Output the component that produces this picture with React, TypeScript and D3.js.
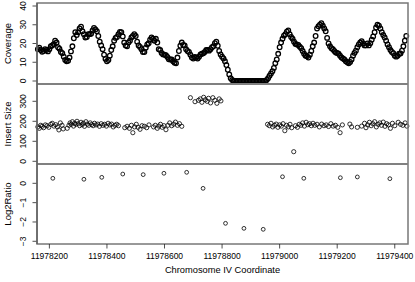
import React from "react";
import * as d3 from "d3";

// Coverage: read every 5 bp starting at 11978160
const coverageStart = 11978160;
const coverageStep = 5;
const coverageValues = [
  17, 17.8, 16.5, 15.6, 16, 17, 16.5, 15.8, 17, 18.5,
  19, 19.6, 21.5, 20.5, 18, 17.2, 15.5, 14.8, 13, 11.2,
  10.5, 10.8, 12.5, 15.8, 18.5, 22.8, 26, 24.5, 26, 28,
  29, 26.5, 25, 23.2, 23.5, 25, 25, 25.2, 27, 28.3,
  27.5, 26.5, 24, 21, 19, 17, 14, 11.8, 10.5, 11.2,
  13.5, 16.5, 18.5, 21.5, 23, 23.5, 25, 26.2, 26, 23.8,
  20.5, 19, 18.5, 20.5, 21.5, 23.2, 24, 25, 24, 21,
  19, 18.2, 17, 15.5, 15.5, 17.8, 19.5, 20.2, 22, 23.2,
  22.5, 21.5, 22.5, 20.5, 17, 16.5, 15, 14.2, 14, 13.8,
  12.8, 11.6, 11.5, 11.5, 10.5, 9.8, 9.5, 12.5, 16, 18.8,
  20.5, 19.2, 19, 17, 16, 15.5, 14, 12.5, 12, 12.8,
  12.5, 12, 13, 14.2, 14.5, 14.8, 15.5, 16.5, 16.5, 16.2,
  17, 18, 18.5, 20.2, 21, 18.8, 16, 14.2, 13, 12,
  10.5, 8.5, 6, 3.5, 1.5, 0.5, 0, 0, 0, 0,
  0, 0, 0, 0, 0, 0, 0, 0, 0, 0,
  0, 0, 0, 0, 0, 0, 0, 0, 0, 0.6,
  1.5, 2.8, 4, 5.2, 7, 9.5, 11.5, 14.5, 18, 20.5,
  22.5, 24.2, 25, 26.3, 27, 25, 23.5, 22.5, 21, 19.8,
  19.5, 19.2, 18.3, 17.5, 16, 14.5, 13.5, 13.2, 12.5, 14,
  16, 18.5, 20.5, 24, 28, 29.2, 30, 30.8, 29.5, 28,
  26.5, 23, 20, 18.5, 17.5, 17, 16, 15.2, 15, 14.5,
  13.5, 12.5, 12, 11.5, 10.5, 10, 9.5, 10.2, 11.5, 13.5,
  15, 16.2, 18, 19.5, 20.5, 21.2, 20, 19, 19, 20,
  19, 20.2, 22, 23.8, 26, 28.5, 30, 29.5, 28, 26,
  24.5, 23.2, 21.5, 19.5, 18, 16.5, 15.5, 14.8, 13.5, 13,
  13.5, 14.5, 14.7, 16.2, 18.5, 21.5, 24,
];

// Insert size: coordinate and size
const insertPos = [
  11978160, 11978165, 11978170, 11978175, 11978180, 11978186, 11978192, 11978198, 11978205, 11978210,
  11978216, 11978222, 11978228, 11978233, 11978238, 11978244, 11978248,
  11978262, 11978268, 11978272, 11978276, 11978280, 11978284, 11978288, 11978292, 11978296, 11978300,
  11978305, 11978310, 11978314, 11978318, 11978322, 11978327, 11978332, 11978337, 11978342, 11978347,
  11978352, 11978357, 11978362, 11978368, 11978374, 11978380, 11978386, 11978392, 11978398, 11978404,
  11978410, 11978416, 11978422, 11978428, 11978434, 11978440,
  11978462, 11978470, 11978478, 11978485, 11978490, 11978496, 11978502, 11978508, 11978515, 11978522,
  11978530, 11978538, 11978546,
  11978562, 11978568, 11978575, 11978580, 11978586, 11978592, 11978598, 11978605, 11978612, 11978618,
  11978625, 11978632, 11978638, 11978645, 11978652, 11978660,
  11978690, 11978706, 11978718, 11978724, 11978730, 11978736, 11978742, 11978748, 11978753, 11978760,
  11978768, 11978775, 11978782, 11978790, 11978796,
  11978958, 11978964, 11978970, 11978976, 11978982, 11978988, 11978994, 11979000, 11979006, 11979012,
  11979018, 11979024, 11979030, 11979036, 11979042, 11979049, 11979055, 11979062, 11979068, 11979074,
  11979080, 11979086, 11979092, 11979098, 11979104, 11979110, 11979116, 11979122, 11979130, 11979138,
  11979146, 11979154, 11979162, 11979170, 11979178, 11979186, 11979194, 11979202, 11979210, 11979218,
  11979244, 11979250, 11979270, 11979285, 11979295, 11979300, 11979306, 11979312, 11979318, 11979324,
  11979330, 11979336, 11979342, 11979348, 11979354, 11979360, 11979366, 11979372, 11979378, 11979385,
  11979392, 11979400, 11979412, 11979420, 11979428, 11979436, 11979442,
];
const insertSize = [
  172, 165, 180, 175, 168, 182, 178, 170, 185, 190,
  176, 183, 172, 157, 192, 180, 162,
  165, 180, 192, 185, 198, 176, 190, 185, 200, 188,
  178, 195, 183, 190, 175, 198, 186, 180, 192, 184,
  178, 190, 182, 186, 175, 188, 180, 185, 176, 190,
  182, 186, 172, 180, 185, 178,
  168, 175, 165, 180, 143, 172, 185, 170, 160, 178,
  175, 168, 182,
  172, 180, 165, 176, 185, 170, 178, 158, 180, 192,
  178, 186, 196, 180, 188, 175,
  318, 298, 305, 312, 295, 320, 308, 300, 315, 292,
  318, 305, 290, 312, 302,
  185, 178, 190, 172, 180, 186, 170, 182, 176, 188,
  153, 180, 172, 185, 168, 48, 178, 170, 185, 180,
  192, 176, 195, 183, 188, 178, 190, 180, 185, 172,
  186, 178, 182, 174, 188, 176, 180, 170, 143, 182,
  186, 172, 170, 176, 190, 168, 182, 195, 178, 188,
  198, 172, 185, 192, 180, 196, 175, 188, 182, 165,
  190, 178, 195, 185, 180, 192, 176,
];

// Log2 ratio windows
const ratioPos = [
  11978212, 11978320, 11978382, 11978455, 11978526, 11978598, 11978677, 11978734,
  11978812, 11978876, 11978943, 11979010, 11979084, 11979211, 11979270, 11979383,
];
const ratioValues = [
  0.26, 0.21, 0.31, 0.48, 0.45, 0.52, 0.57, -0.26,
  -2.07, -2.33, -2.38, 0.34, 0.26, 0.29, 0.33, 0.24,
];

const xTicks = [11978200, 11978400, 11978600, 11978800, 11979000, 11979200, 11979400];
const coverageTicks = [0, 10, 20, 30, 40];
const insertTicks = [0, 100, 200, 300];
const ratioTicks = [-3, -2, -1, 0];

const FONT = "'Liberation Sans', Arial, Helvetica, sans-serif";

export default function App() {
  const W = 415;
  const H = 282;
  const left = 37;
  const right = 408;
  const x = d3.scaleLinear().domain([11978157, 11979446]).range([left, right]);

  const panels = [
    {
      top: 3,
      bottom: 84,
      y: d3.scaleLinear().domain([-1.6, 41.6]).range([84, 3]),
      ticks: coverageTicks,
      title: "Coverage",
      pts: coverageValues.map((v, i) => [coverageStart + i * coverageStep, v]),
      r: 2.3,
      sw: 1.3,
    },
    {
      top: 84,
      bottom: 164,
      y: d3.scaleLinear().domain([-13.5, 386.5]).range([164, 84]),
      ticks: insertTicks,
      title: "Insert Size",
      pts: insertPos.map((p, i) => [p, insertSize[i]]),
      r: 2.1,
      sw: 0.8,
    },
    {
      top: 164,
      bottom: 244,
      y: d3.scaleLinear().domain([-3.14, 1.0]).range([244, 164]),
      ticks: ratioTicks,
      title: "Log2Ratio",
      pts: ratioPos.map((p, i) => [p, ratioValues[i]]),
      r: 1.9,
      sw: 0.8,
    },
  ];

  return (
    <svg
      width={W}
      height={H}
      style={{ position: "absolute", left: 0, top: 0, background: "#fff" }}
      fontFamily={FONT}
    >
      <rect x={0} y={0} width={W} height={H} fill="#fff" />
      {panels.map((p, pi) => (
        <g key={pi}>
          {p.pts.map((d, i) => (
            <circle
              key={i}
              cx={x(d[0])}
              cy={p.y(d[1])}
              r={p.r}
              fill="none"
              stroke="#000"
              strokeWidth={p.sw}
            />
          ))}
          {p.ticks.map((t) => (
            <g key={t}>
              <line x1={left - 4.5} x2={left} y1={p.y(t)} y2={p.y(t)} stroke="#222" strokeWidth={0.8} />
              <text
                transform={`translate(${left - 11},${p.y(t)}) rotate(-90)`}
                textAnchor="middle"
                fontSize={8.5}
                fill="#000"
              >
                {t < 0 ? `\u2212${-t}` : t}
              </text>
            </g>
          ))}
          <text
            transform={`translate(10.5,${(p.top + p.bottom) / 2}) rotate(-90)`}
            textAnchor="middle"
            fontSize={9.5}
            fill="#000"
          >
            {p.title}
          </text>
        </g>
      ))}
      {/* frame and separators */}
      <rect x={left} y={3} width={right - left} height={244 - 3} fill="none" stroke="#777" strokeWidth={1.5} />
      <line x1={left} x2={right} y1={84} y2={84} stroke="#808080" strokeWidth={1.8} />
      <line x1={left} x2={right} y1={164} y2={164} stroke="#808080" strokeWidth={1.8} />
      <line x1={left} x2={left} y1={3} y2={244} stroke="#555" strokeWidth={1.2} />
      {xTicks.map((t) => (
        <g key={t}>
          <line x1={x(t)} x2={x(t)} y1={244} y2={248.5} stroke="#222" strokeWidth={0.8} />
          <text x={x(t)} y={258.5} textAnchor="middle" fontSize={8.5} fill="#000">
            {t}
          </text>
        </g>
      ))}
      <text x={(left + right) / 2} y={272.5} textAnchor="middle" fontSize={9.3} fill="#000">
        Chromosome IV Coordinate
      </text>
    </svg>
  );
}
